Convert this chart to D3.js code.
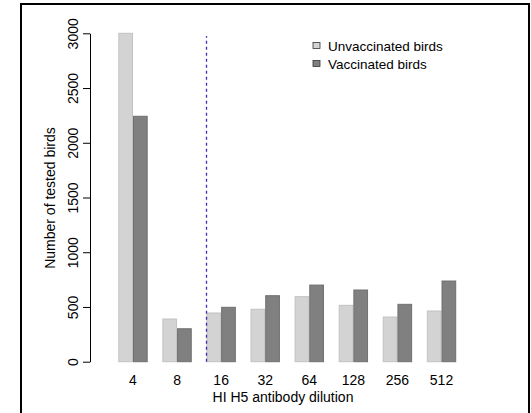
<!DOCTYPE html>
<html><head><meta charset="utf-8">
<script src="https://cdn.jsdelivr.net/npm/d3@7"></script>
<style>
html,body{margin:0;padding:0;background:#fff;}
text{font-family:"Liberation Sans",Arial,sans-serif;fill:#000;}
</style></head>
<body>
<svg id="c" width="531" height="413"></svg>
<script>
const categories = ["4","8","16","32","64","128","256","512"];
const seriesNames = ["Unvaccinated birds","Vaccinated birds"];
const unvaccinated = [3000, 390, 445, 479, 594, 515, 408, 463];
const vaccinated = [2242, 301, 497, 603, 700, 655, 524, 737];
const yTicks = [0, 500, 1000, 1500, 2000, 2500, 3000];
const cutoffBefore = "16";
const colors = ["#d3d3d3", "#808080"];
const strokes = ["#c2c2c2", "#707070"];

const svg = d3.select("#c");
svg.append("rect").attr("width",531).attr("height",413).attr("fill","#fff");
// frame
svg.append("rect").attr("x",21).attr("y",4).attr("width",508).attr("height",430)
  .attr("fill","none").attr("stroke","#000").attr("stroke-width",2);

const x = d3.scaleBand().domain(categories).range([118.3, 456.2]).paddingInner(1/3).paddingOuter(0);
const xs = d3.scaleBand().domain(seriesNames).range([0, x.bandwidth()]);
const y = d3.scaleLinear().domain([0, 3000]).range([361.7, 33.3]);

const data = categories.map((c,i)=>({cat:c, vals:[unvaccinated[i], vaccinated[i]]}));

const g = svg.append("g").selectAll("g").data(data).join("g")
  .attr("transform", d=>`translate(${x(d.cat)},0)`);
g.selectAll("rect").data(d=>d.vals.map((v,j)=>({v,j})))
  .join("rect")
  .attr("x", d=>xs(seriesNames[d.j])+0.5)
  .attr("y", d=>y(d.v))
  .attr("width", xs.bandwidth()-1)
  .attr("height", d=>y(0)-y(d.v))
  .attr("fill", d=>colors[d.j])
  .attr("stroke", d=>strokes[d.j])
  .attr("stroke-width", 1);

// cutoff dashed line at left edge of the 16 group
const lx = Math.round(x(cutoffBefore)) + 0.5;
svg.append("line").attr("x1",lx).attr("x2",lx).attr("y1",y(0)).attr("y2",y(2975))
  .attr("stroke","#3a2db5").attr("stroke-width",1.3).attr("stroke-dasharray","3,3");

// y axis
const ya = svg.append("g").attr("transform","translate(90,0)")
  .call(d3.axisLeft(y).tickValues(yTicks).tickSize(7).tickSizeOuter(0).tickFormat(d3.format("d")));
ya.select(".domain").attr("stroke","#000").attr("stroke-width",1);
ya.selectAll(".tick line").attr("stroke","#000");
ya.selectAll(".tick text").attr("x",null).attr("dy",null)
  .attr("transform","translate(-12,0) rotate(-90)")
  .attr("text-anchor","middle").style("font-size","14px")
  .style("font-family","'Liberation Sans',Arial,sans-serif").attr("fill","#000");

// x labels
svg.append("g").selectAll("text").data(categories).join("text")
  .attr("x", d=>x(d)+x.bandwidth()/2).attr("y",384.5)
  .attr("text-anchor","middle").style("font-size","14px").text(d=>d);

svg.append("text").attr("x",283).attr("y",402).attr("text-anchor","middle")
  .style("font-size","14px").text("HI H5 antibody dilution");
svg.append("text").attr("transform","translate(55,198) rotate(-90)").attr("text-anchor","middle")
  .style("font-size","14px").text("Number of tested birds");

// legend
const lg = svg.append("g").selectAll("g").data(seriesNames).join("g")
  .attr("transform",(d,i)=>`translate(313,${45.5+i*18})`);
lg.append("rect").attr("x",0).attr("y",-3).attr("width",7).attr("height",6)
  .attr("fill",(d,i)=>colors[i]).attr("stroke","#333").attr("stroke-width",0.8);
lg.append("text").attr("x",15).attr("y",5).style("font-size","13.5px").text(d=>d);
</script>
</body></html>
